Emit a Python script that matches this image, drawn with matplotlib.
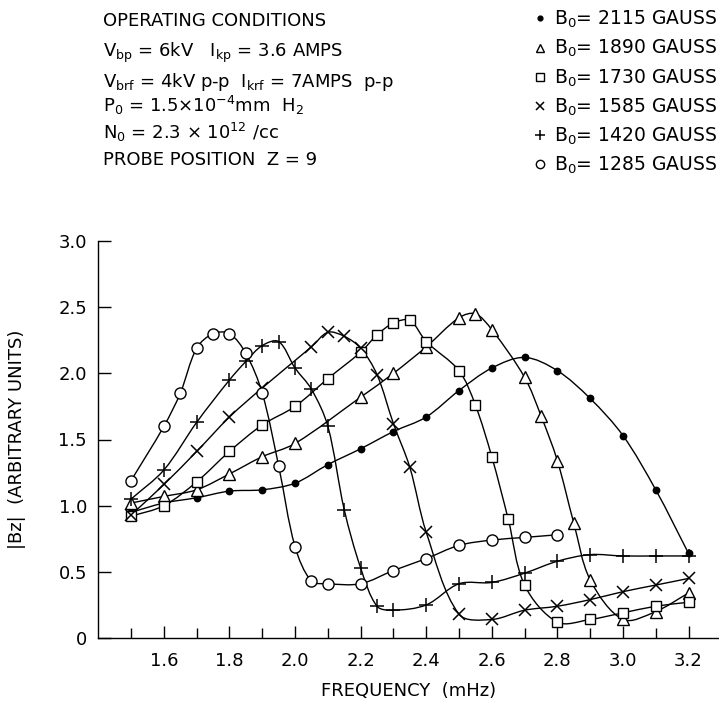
import numpy as np
import matplotlib
matplotlib.use("Agg")
import matplotlib.pyplot as plt
from matplotlib.path import Path
from matplotlib.patches import PathPatch
from matplotlib.lines import Line2D

plt.rcParams['font.family'] = ['DejaVu Sans']
plt.rcParams['mathtext.default'] = 'regular'

# ---------------- data (frequency in MHz, |Bz| arbitrary units) ----------------
f_2115 = [1.5, 1.6, 1.7, 1.8, 1.9, 2.0, 2.1, 2.2, 2.3, 2.4, 2.5, 2.6, 2.7, 2.8, 2.9, 3.0, 3.1, 3.2]
b_2115 = [0.95, 1.02, 1.06, 1.11, 1.12, 1.17, 1.31, 1.43, 1.56, 1.67, 1.87, 2.04, 2.12, 2.02, 1.81, 1.53, 1.12, 0.64]

f_1890 = [1.5, 1.6, 1.7, 1.8, 1.9, 2.0, 2.2, 2.3, 2.4, 2.5, 2.55, 2.6, 2.7, 2.75, 2.8, 2.85, 2.9, 3.0, 3.1, 3.2]
b_1890 = [1.02, 1.07, 1.12, 1.24, 1.37, 1.47, 1.82, 2.00, 2.20, 2.42, 2.45, 2.33, 1.97, 1.68, 1.34, 0.87, 0.44, 0.14, 0.20, 0.34]

f_1730 = [1.5, 1.6, 1.7, 1.8, 1.9, 2.0, 2.1, 2.2, 2.25, 2.3, 2.35, 2.4, 2.5, 2.55, 2.6, 2.65, 2.7, 2.8, 2.9, 3.0, 3.1, 3.2]
b_1730 = [0.92, 1.00, 1.18, 1.41, 1.61, 1.75, 1.96, 2.16, 2.29, 2.38, 2.40, 2.24, 2.02, 1.76, 1.37, 0.90, 0.40, 0.12, 0.14, 0.19, 0.24, 0.27]

f_1585 = [1.5, 1.6, 1.7, 1.8, 1.9, 2.05, 2.1, 2.15, 2.2, 2.25, 2.3, 2.35, 2.4, 2.5, 2.6, 2.7, 2.8, 2.9, 3.0, 3.1, 3.2]
b_1585 = [0.93, 1.16, 1.41, 1.67, 1.89, 2.20, 2.31, 2.28, 2.19, 1.99, 1.62, 1.29, 0.80, 0.18, 0.14, 0.21, 0.24, 0.29, 0.35, 0.40, 0.45]

f_1420 = [1.5, 1.6, 1.7, 1.8, 1.85, 1.9, 1.95, 2.0, 2.05, 2.1, 2.15, 2.2, 2.25, 2.3, 2.4, 2.5, 2.6, 2.7, 2.8, 2.9, 3.0, 3.1, 3.2]
b_1420 = [1.05, 1.27, 1.63, 1.95, 2.09, 2.21, 2.24, 2.04, 1.88, 1.60, 0.97, 0.53, 0.24, 0.21, 0.25, 0.41, 0.42, 0.49, 0.58, 0.63, 0.62, 0.62, 0.62]

f_1285 = [1.5, 1.6, 1.65, 1.7, 1.75, 1.8, 1.85, 1.9, 1.95, 2.0, 2.05, 2.1, 2.2, 2.3, 2.4, 2.5, 2.6, 2.7, 2.8]
b_1285 = [1.19, 1.60, 1.85, 2.19, 2.30, 2.30, 2.15, 1.85, 1.30, 0.69, 0.43, 0.41, 0.41, 0.51, 0.60, 0.70, 0.74, 0.76, 0.78]

series_labels = ["2115", "1890", "1730", "1585", "1420", "1285"]
x_ticklabels = ["1.6", "1.8", "2.0", "2.2", "2.4", "2.6", "2.8", "3.0", "3.2"]
y_ticklabels = ["0", "0.5", "1.0", "1.5", "2.0", "2.5", "3.0"]

series = [
    (f_2115, b_2115, dict(marker='o', ms=4.6, mfc='black', mec='black')),
    (f_1890, b_1890, dict(marker='^', ms=8.5, mfc='white', mec='black', mew=1.0)),
    (f_1730, b_1730, dict(marker='s', ms=7.2, mfc='white', mec='black', mew=1.0)),
    (f_1585, b_1585, dict(marker='x', ms=8.5, mec='black', mew=1.1)),
    (f_1420, b_1420, dict(marker='+', ms=10, mec='black', mew=1.1)),
    (f_1285, b_1285, dict(marker='o', ms=8.0, mfc='white', mec='black', mew=1.0)),
]

W, H = 719, 707
fig = plt.figure(figsize=(W / 100, H / 100), dpi=100)
ax = fig.add_axes([98 / W, (H - 638) / H, (W - 98) / W, (638 - 241) / H])
ax.set_xlim(1.399, 3.293)
ax.set_ylim(0, 3.0)

SX, SY = 328.0, 132.5  # approximate pixels per data unit for chord lengths


def smooth_path(x, y):
    x = np.asarray(x, float)
    y = np.asarray(y, float)
    P = np.column_stack([x, y])
    Q = np.column_stack([x * SX, y * SY])
    seg = np.hypot(*np.diff(Q, axis=0).T)
    s = np.concatenate([[0], np.cumsum(seg)])
    n = len(P)
    m = np.zeros_like(P)
    for i in range(n):
        if i == 0:
            m[i] = (P[1] - P[0]) / (s[1] - s[0])
        elif i == n - 1:
            m[i] = (P[-1] - P[-2]) / (s[-1] - s[-2])
        else:
            m[i] = (P[i + 1] - P[i - 1]) / (s[i + 1] - s[i - 1])
    verts = [tuple(P[0])]
    codes = [Path.MOVETO]
    for i in range(n - 1):
        h = s[i + 1] - s[i]
        c1 = P[i] + m[i] * h / 3
        c2 = P[i + 1] - m[i + 1] * h / 3
        verts += [tuple(c1), tuple(c2), tuple(P[i + 1])]
        codes += [Path.CURVE4] * 3
    return Path(verts, codes)


for fx, by, st in series:
    ax.add_patch(PathPatch(smooth_path(fx, by), fill=False, ec='black', lw=1.0, zorder=2))
    ax.plot(fx, by, linestyle='none', zorder=3, **st)

# axes styling
for side in ('top', 'right'):
    ax.spines[side].set_visible(False)
ax.spines['left'].set_linewidth(1.0)
ax.spines['bottom'].set_linewidth(1.0)

ax.set_xticks(np.arange(1.6, 3.21, 0.2))
ax.set_xticklabels(x_ticklabels)
ax.set_xticks(np.arange(1.5, 3.15, 0.2), minor=True)
ax.set_yticks(np.arange(0, 3.01, 0.5))
ax.set_yticklabels(y_ticklabels)
ax.tick_params(axis='x', which='major', direction='in', length=9, width=1.0, pad=10, labelsize=13)
ax.tick_params(axis='x', which='minor', direction='in', length=7, width=1.0)
ax.tick_params(axis='y', which='major', direction='in', length=9, width=1.0, pad=8, labelsize=13)

ax.set_xlabel("FREQUENCY  (mHz)", fontsize=13)
ax.xaxis.set_label_coords(0.5, -0.11)
ax.set_ylabel("|Bz|  (ARBITRARY UNITS)", fontsize=13)
ax.yaxis.set_label_coords((26 - 98) / 621, 0.5)

# operating conditions block
cond_lines = [
    "OPERATING CONDITIONS",
    r"$V_{bp}$ = 6kV   $I_{kp}$ = 3.6 AMPS",
    r"$V_{brf}$ = 4kV p-p  $I_{krf}$ = 7AMPS  p-p",
    r"$P_0$ = 1.5$\times$10$^{-4}$mm  $H_2$",
    r"$N_0$ = 2.3 $\times$ 10$^{12}$ /cc",
    "PROBE POSITION  Z = 9",
]
cond_base = [26, 57, 87, 112, 139, 165]
for txt, yb in zip(cond_lines, cond_base):
    fig.text(103 / W, 1 - yb / H, txt, fontsize=13, ha='left', va='baseline')

# legend
handles = []
for (fx, by, st) in series:
    hs = dict(st)
    hs['ms'] = hs['ms'] * 0.75
    handles.append(Line2D([], [], linestyle='none', color='black', **hs))
labels = [r"$B_0$= %s GAUSS" % s for s in series_labels]
fig.legend(handles, labels, loc='upper left', bbox_to_anchor=(532 / W, 1 - 9 / H),
           frameon=False, fontsize=13.5, handlelength=0.8, handletextpad=0.35,
           labelspacing=0.42, borderpad=0, borderaxespad=0)

fig.savefig("out.png", dpi=100)
